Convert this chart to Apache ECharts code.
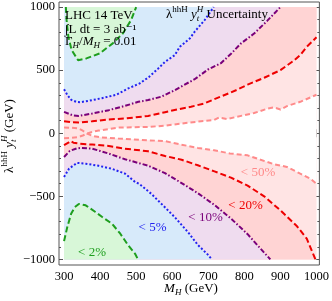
<!DOCTYPE html>
<html><head><meta charset="utf-8">
<script src="https://cdn.jsdelivr.net/npm/echarts@6/dist/echarts.min.js"></script>
<style>html,body{margin:0;padding:0;background:#fff}#c{width:332px;height:301px}</style>
</head><body><div id="c"></div>
<script>
// ---- data ----
const xTicks = [300,400,500,600,700,800,900,1000];
const yTicks = [-1000,-500,0,500,1000];
const xRange = [300,1000];
const yRange = [-1000,1000];

// contour curves [M_H, lambda*y]
const green2Upper = [[305,1000],[307,897],[312,764],[321,659],[339,579],[362,593],[399,633],[435,712],[463,791],[486,897],[500,1000]];
const green2Lower = [[300,-855],[309,-743],[320,-635],[330,-585],[341,-560],[360,-571],[387,-624],[405,-662],[433,-717],[456,-796],[478,-889],[497,-955],[505,-1000]];
const blue5Upper = [[300,349],[310,300],[320,265],[335,248],[345,246],[370,258],[405,278],[445,305],[478,355],[510,395],[536,447],[560,510],[580,566],[607,619],[621,685],[649,752],[662,804],[690,897],[715,1000]];
const blue5Lower = [[300,-347],[314,-280],[336,-235],[360,-241],[396,-258],[433,-282],[469,-320],[497,-386],[509,-402],[542,-480],[579,-585],[607,-665],[644,-785],[671,-885],[698,-960],[710,-1000]];
const purple10Upper = [[300,169],[323,143],[341,137],[378,156],[424,183],[469,217],[506,249],[533,263],[570,290],[607,341],[626,372],[662,428],[699,505],[735,555],[763,630],[790,710],[827,790],[863,890],[900,1000]];
const purple10Lower = [[300,-188],[316,-140],[335,-120],[346,-116],[378,-122],[424,-161],[469,-206],[533,-257],[580,-316],[626,-395],[671,-475],[717,-568],[763,-676],[809,-800],[845,-915],[872,-1000]];
const red20Upper = [[300,95],[320,88],[341,85],[378,95],[424,109],[469,117],[533,137],[580,167],[616,190],[652,210],[689,236],[717,270],[760,320],[780,345],[809,385],[855,440],[900,500],[937,575],[955,620],[973,685],[1000,760]];
const red20Lower = [[300,-95],[312,-75],[318,-62],[326,-75],[341,-82],[378,-90],[424,-101],[469,-122],[533,-143],[580,-180],[626,-210],[671,-254],[717,-302],[763,-352],[809,-415],[855,-500],[900,-611],[946,-737],[973,-835],[997,-1000]];
const pink50A = [[300,45],[320,44],[340,38],[352,20],[364,-3],[380,-22],[400,-32],[450,-42],[533,-56],[579,-62],[625,-90],[671,-116],[716,-135],[760,-160],[809,-175],[845,-210],[882,-245],[918,-267],[955,-320],[983,-360],[1000,-400]];
const pink50B = [[300,-40],[320,-37],[340,-30],[352,-18],[364,-3],[380,12],[396,21],[451,45],[533,50],[580,60],[625,77],[680,95],[716,105],[730,125],[753,112],[778,130],[827,160],[864,195],[882,205],[900,188],[918,215],[955,249],[1000,305]];
const crossX = 364;

const FONT = '"Liberation Serif","DejaVu Serif",serif';
const C = {
  pinkFill:'#FFE4E4', redFill:'#FFD4D4', purpleFill:'#EFDCEF', blueFill:'#D7EAFA', greenFill:'#D8F7D8',
  green:'#1E9E1E', blue:'#2323F0', purple:'#7A007A', red:'#EE0000', pink:'#FF8A8A'
};

// ---- build regions from curves ----
const rectPoly = [[xRange[0],yRange[0]],[xRange[1],yRange[0]],[xRange[1],yRange[1]],[xRange[0],yRange[1]]];
const iA = pink50A.findIndex(p=>p[0]===crossX), iB = pink50B.findIndex(p=>p[0]===crossX);
const whitePoly = pink50B.slice(iB).concat(pink50A.slice(iA).reverse());
const topClose = c => c.concat([[xRange[0],yRange[1]]]);
const botClose = c => c.concat([[xRange[0],yRange[0]]]);

function poly(points, color){
  return {type:'custom', coordinateSystem:'cartesian2d', xAxisIndex:0, yAxisIndex:0, silent:true, z:1,
    data:[points[0]],
    renderItem:(params, api)=>({type:'polygon', shape:{points: points.map(p=>api.coord(p))}, style:{fill:color}})};
}
function line(points, color, dash){
  return {type:'line', xAxisIndex:0, yAxisIndex:0, data:points, showSymbol:false, silent:true, z:3,
    lineStyle:{color, width:2, type:dash, cap:'butt'}};
}
const series = [
  poly(rectPoly, C.pinkFill),
  poly(whitePoly, '#FFFFFF'),
  poly(topClose(red20Upper.concat([[xRange[1],yRange[1]]])), C.redFill),
  poly(botClose(red20Lower), C.redFill),
  poly(topClose(purple10Upper), C.purpleFill),
  poly(botClose(purple10Lower), C.purpleFill),
  poly(topClose(blue5Upper), C.blueFill),
  poly(botClose(blue5Lower), C.blueFill),
  poly(green2Upper, C.greenFill),
  poly(botClose(green2Lower), C.greenFill),
  line(pink50A, C.pink, [5,3]),
  line(pink50B, C.pink, [5,3]),
  line(red20Upper, C.red, [6,3]),
  line(red20Lower, C.red, [6,3]),
  line(purple10Upper, C.purple, [5,2,1.5,2]),
  line(purple10Lower, C.purple, [5,2,1.5,2]),
  line(blue5Upper, C.blue, [2,2]),
  line(blue5Lower, C.blue, [2,2]),
  line(green2Upper, C.green, [6,3]),
  line(green2Lower, C.green, [6,3])
];

// ---- axes (frame ticks) ----
const xMinor = [], yMinor = [];
for (let v = xRange[0]; v <= xRange[1]; v += 20) if (v % 100) xMinor.push(v);
for (let v = yRange[0]; v <= yRange[1]; v += 100) if (v % 500) yMinor.push(v);
const X0 = 286, X1 = 1008, Y0 = -1044, Y1 = 1040;
const tickCol = '#555';
const fmt = v => v < 0 ? '\u2212' + (-v) : String(v);
function xa(pos, vals, len, labels){
  return {type:'value', min:X0, max:X1, position:pos, axisLine:{show:false}, splitLine:{show:false},
    axisTick:{show:true, inside:true, length:len, customValues:vals, lineStyle:{color:tickCol}},
    axisLabel:labels ? {show:true, customValues:vals, margin:5, formatter:fmt, fontFamily:FONT, fontSize:12.5, color:'#000'} : {show:false}};
}
function ya(pos, vals, len, labels){
  return {type:'value', min:Y0, max:Y1, position:pos, axisLine:{show:false}, splitLine:{show:false},
    axisTick:{show:true, inside:true, length:len, customValues:vals, lineStyle:{color:tickCol}},
    axisLabel:labels ? {show:true, customValues:vals, margin:4, formatter:fmt, fontFamily:FONT, fontSize:12.5, color:'#000'} : {show:false}};
}

// ---- text helpers ----
const mctx = document.createElement('canvas').getContext('2d');
function tw(s, size, it){ mctx.font = (it?'italic ':'') + size + 'px "Liberation Serif"'; return mctx.measureText(s).width; }
// run: [text, size, italic, dy, keep]
function runs(list, color){
  let x = 0; const ch = [];
  for (const r of list){
    const [t, s, it, dy, keep] = r;
    ch.push({type:'text', x, y: dy||0, z:100, zlevel:1, silent:true, style:{text:t, fontSize:s, fontFamily:FONT, fontStyle: it?'italic':'normal', fill:color||'#000', align:'left', verticalAlign:'middle'}});
    if (!keep) x += tw(t, s, it);
  }
  return {children: ch, width: x};
}
function textAt(list, x, y, opts){
  opts = opts || {};
  const r = runs(list, opts.color);
  const off = opts.center ? -r.width/2 : 0;
  r.children.forEach(c => c.x += off);
  return {type:'group', x, y, z:100, zlevel:1, rotation: opts.rot || 0, children: r.children};
}
const S = 9, M = 13;
const lamY = [['λ',M],['hhH',S,false,-5],[' ',M],['y',M,true],['t',S,true,4,true],['H',S,true,-5]];
const graphics = [
  textAt([['LHC 14 TeV',M]], 65, 16),
  textAt([['\u222BL dt = 3 ab\u207B\u00B9',M]], 65, 29.5),
  textAt([['Γ',M],['H',S,true,4],['/',M],['M',M,true],['H',S,true,4],[' = 0.01',M]], 65, 42),
  textAt(lamY.concat([[' Uncertainty',M]]), 166, 14.5),
  textAt(lamY.concat([[' (GeV)',M]]), 10, 136, {center:true, rot:Math.PI/2}),
  textAt([['M',M,true],['H',S,true,4],[' (GeV)',M]], 191, 289, {center:true}),
  textAt([['< 2%',M]], 92, 253, {center:true, color:C.green}),
  textAt([['< 5%',M]], 152.5, 227.5, {center:true, color:C.blue}),
  textAt([['< 10%',M]], 205.5, 218, {center:true, color:C.purple}),
  textAt([['< 20%',M]], 245.5, 205.5, {center:true, color:C.red}),
  textAt([['< 50%',M]], 258, 173, {center:true, color:C.pink})
];

const chart = echarts.init(document.getElementById('c'), null, {renderer:'canvas'});
chart.setOption({
  animation:false,
  backgroundColor:'#fff',
  grid:{left:59, right:10, top:2, bottom:36, show:true, borderColor:'#555', borderWidth:1, backgroundColor:'transparent'},
  xAxis:[xa('bottom', xTicks, 4, true), xa('bottom', xMinor, 2, false), xa('top', xTicks, 4, false), xa('top', xMinor, 2, false)],
  yAxis:[ya('left', yTicks, 4, true), ya('left', yMinor, 2, false), ya('right', yTicks, 4, false), ya('right', yMinor, 2, false)],
  series,
  graphic: {elements: graphics}
});
</script></body></html>
